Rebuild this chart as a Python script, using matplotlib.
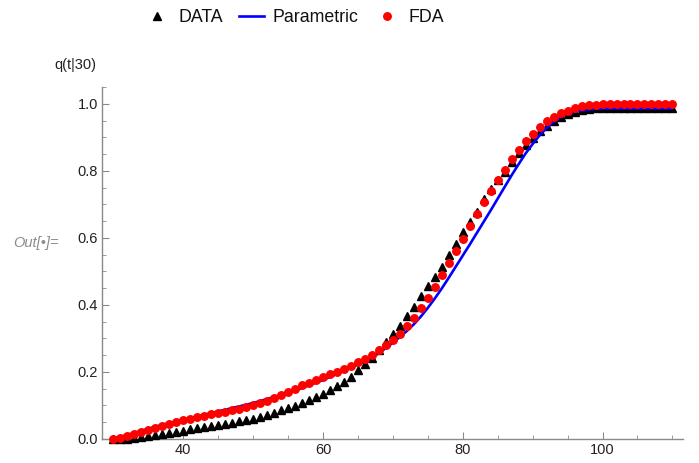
import numpy as np
import matplotlib
matplotlib.use("Agg")
import matplotlib.pyplot as plt
from matplotlib.ticker import MultipleLocator

plt.rcParams['font.family'] = ['Liberation Sans', 'DejaVu Sans']

# ages 30..110
ages = np.arange(30, 111)

# observed data (triangles)
data_q = [0.000, 0.000, 0.001, 0.003, 0.005, 0.008, 0.011, 0.015, 0.018, 0.022,
          0.025, 0.029, 0.032, 0.035, 0.038, 0.042, 0.045, 0.049, 0.052, 0.056,
          0.060, 0.065, 0.070, 0.077, 0.085, 0.092, 0.099, 0.107, 0.116, 0.124,
          0.134, 0.146, 0.159, 0.171, 0.186, 0.206, 0.223, 0.241, 0.266, 0.288,
          0.313, 0.338, 0.367, 0.395, 0.425, 0.455, 0.484, 0.514, 0.548, 0.581,
          0.616, 0.647, 0.678, 0.715, 0.745, 0.772, 0.797, 0.826, 0.852, 0.877,
          0.899, 0.918, 0.935, 0.949, 0.961, 0.970, 0.977, 0.981, 0.984, 0.986,
          0.988, 0.988, 0.988, 0.988, 0.988, 0.988, 0.988, 0.988, 0.988, 0.988,
          0.988]

# FDA estimate (red dots)
fda_q = [0.000, 0.004, 0.010, 0.015, 0.022, 0.028, 0.034, 0.040, 0.045, 0.050,
         0.055, 0.060, 0.064, 0.068, 0.073, 0.077, 0.081, 0.085, 0.090, 0.095,
         0.100, 0.107, 0.114, 0.122, 0.132, 0.141, 0.150, 0.160, 0.168, 0.176,
         0.184, 0.193, 0.201, 0.209, 0.219, 0.229, 0.239, 0.251, 0.265, 0.279,
         0.295, 0.313, 0.337, 0.362, 0.390, 0.421, 0.454, 0.489, 0.524, 0.561,
         0.598, 0.635, 0.671, 0.706, 0.741, 0.773, 0.803, 0.834, 0.862, 0.888,
         0.911, 0.931, 0.949, 0.962, 0.972, 0.980, 0.987, 0.992, 0.995, 0.997,
         0.998, 0.999, 0.999, 0.999, 0.999, 0.999, 0.999, 0.999, 0.999, 0.999,
         0.999]

# parametric fit (blue line)
param_q = [0.000, 0.006, 0.012, 0.018, 0.024, 0.030, 0.036, 0.042, 0.047, 0.052,
           0.057, 0.062, 0.067, 0.072, 0.077, 0.082, 0.087, 0.092, 0.097, 0.102,
           0.107, 0.113, 0.119, 0.125, 0.131, 0.138, 0.145, 0.152, 0.160, 0.168,
           0.176, 0.185, 0.194, 0.203, 0.212, 0.222, 0.232, 0.243, 0.256, 0.271,
           0.287, 0.304, 0.322, 0.342, 0.365, 0.391, 0.419, 0.449, 0.481, 0.514,
           0.547, 0.580, 0.614, 0.648, 0.682, 0.717, 0.752, 0.787, 0.820, 0.852,
           0.880, 0.906, 0.928, 0.946, 0.960, 0.970, 0.976, 0.980, 0.983, 0.985,
           0.986, 0.986, 0.986, 0.986, 0.986, 0.986, 0.986, 0.986, 0.986, 0.986,
           0.986]

fig = plt.figure(figsize=(6.99, 4.63), dpi=100)
ax = fig.add_axes([0.146, 0.052, 0.831, 0.760])

ax.plot(ages, data_q, linestyle='none', marker='^', color='black', markersize=6,
        label='DATA', clip_on=False, zorder=3)
ax.plot(ages, param_q, color='blue', linewidth=1.9, label='Parametric', zorder=4)
ax.plot(ages, fda_q, linestyle='none', marker='o', color='red', markersize=5.4,
        label='FDA', clip_on=False, zorder=5)

ax.set_xlim(28.4, 111.5)
ax.set_ylim(0, 1.05)

for side in ['top', 'right']:
    ax.spines[side].set_visible(False)
for side in ['left', 'bottom']:
    ax.spines[side].set_color('#8a8a8a')
    ax.spines[side].set_linewidth(1.0)

ax.xaxis.set_major_locator(MultipleLocator(20))
ax.xaxis.set_minor_locator(MultipleLocator(5))
ax.yaxis.set_major_locator(MultipleLocator(0.2))
ax.yaxis.set_minor_locator(MultipleLocator(0.05))
ax.set_xticks([40, 60, 80, 100])
ax.tick_params(which='major', direction='in', length=5, color='#8a8a8a',
               labelsize=10.5, labelcolor='#222222', pad=3)
ax.tick_params(which='minor', direction='in', length=3, color='#8a8a8a')
ax.yaxis.set_major_formatter(plt.FuncFormatter(lambda v, p: f"{v:.1f}"))

fig.text(75 / 699, 1 - 65 / 463, "q(t|30)", ha='center', va='center', fontsize=10.5,
         color='#222222')
fig.text(36 / 699, 1 - 243 / 463, "Out[\u2022]=", ha='center', va='center',
         fontsize=10.5, style='italic', color='#8c8c8c')

leg = fig.legend(loc='center', bbox_to_anchor=(294 / 699, 1 - 18 / 463), ncol=3,
                 frameon=False, fontsize=12.8, handlelength=1.4, columnspacing=0.9,
                 handletextpad=0.5, borderpad=0.2)
for t in leg.get_texts():
    t.set_color('#111111')

plt.savefig('out.png', dpi=100)
